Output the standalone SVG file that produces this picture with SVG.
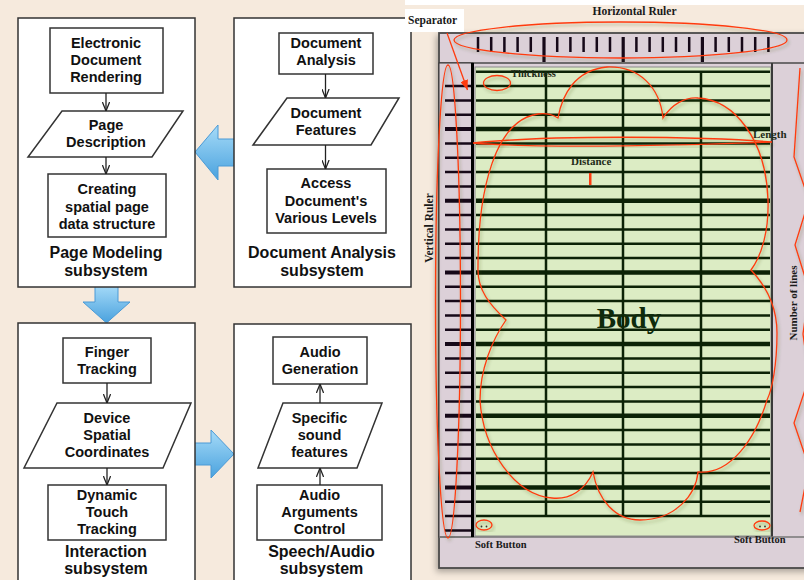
<svg xmlns="http://www.w3.org/2000/svg" width="804" height="580" viewBox="0 0 804 580">
<defs>
<linearGradient id="bg1" x1="0" y1="0" x2="0" y2="1">
<stop offset="0" stop-color="#a6dbf8"/>
<stop offset="1" stop-color="#4aa2de"/>
</linearGradient>
<marker id="v" viewBox="0 0 10 8" refX="10" refY="4" markerWidth="9" markerHeight="8" markerUnits="userSpaceOnUse" orient="auto">
<path d="M0,0 L10,4 L0,8" fill="none" stroke="#222" stroke-width="1.4"/>
</marker>
<marker id="ra" viewBox="0 0 10 8" refX="10" refY="4" markerWidth="10" markerHeight="8" markerUnits="userSpaceOnUse" orient="auto">
<path d="M0,0 L10,4 L0,8 Z" fill="#ff3b0f"/>
</marker>
<filter id="sh" x="-10%" y="-10%" width="130%" height="130%">
<feDropShadow dx="1.5" dy="2.5" stdDeviation="1.6" flood-color="#3a4a20" flood-opacity="0.35"/>
</filter>
<filter id="fs" x="-5%" y="-5%" width="115%" height="115%">
<feDropShadow dx="-2" dy="3" stdDeviation="3" flood-color="#000" flood-opacity="0.3"/>
</filter>
<style>
.bg{fill:#f6eadd}
.panel{fill:#fff;stroke:#333;stroke-width:1.5}
.box{fill:#fff;stroke:#333;stroke-width:1.5}
.t{font-family:"Liberation Sans",Arial,sans-serif;font-weight:bold;font-size:14.5px;fill:#111;text-anchor:middle}
.lab{font-size:16px}
.con{stroke:#222;stroke-width:1.3;fill:none;marker-end:url(#v)}
.blue{fill:url(#bg1);stroke:#4a9ad6;stroke-width:1}
.band{fill:#dcd0d8}
.tick{stroke:#160818;stroke-width:2.5;fill:none}
.tickL{stroke:#160818;stroke-width:4;fill:none}
.bl{stroke:#0c2206;stroke-width:2.5;fill:none}
.blT{stroke:#0c2206;stroke-width:4.5;fill:none}
.red{fill:none;stroke:#ff3b0f;stroke-width:1.3;filter:url(#sh)}
.s{font-family:"Liberation Serif","Times New Roman",serif;font-weight:bold;fill:#1a1a1a}
.sg{fill:#1e2b18}
</style>
</defs>

<rect class="bg" x="0" y="0" width="804" height="580"/>
<rect x="405" y="0" width="399" height="5" fill="#fff"/>

<!-- blue transfer arrows -->
<g id="transfer-arrows">
<polygon class="blue" points="195,152 218,125 218,139 236,139 236,166 218,166 218,180"/>
<polygon class="blue" points="95,285 118,285 118,302 130,302 106.5,323 83,302 95,302"/>
<polygon class="blue" points="193,443 211,443 211,430 234,454 211,478 211,465 193,465"/>
</g>

<!-- Page Modeling subsystem -->
<g id="page-modeling">
<rect class="panel" x="18" y="18" width="177" height="269"/>
<g id="n-electronic-rendering">
<rect class="box" x="50" y="28" width="113" height="65"/>
<text class="t" x="106" y="48">Electronic</text>
<text class="t" x="106" y="65">Document</text>
<text class="t" x="106" y="82">Rendering</text>
</g>
<g id="n-page-description">
<polygon class="box" points="62,111 183,111 152,157 28,157"/>
<text class="t" x="106" y="130">Page</text>
<text class="t" x="106" y="147">Description</text>
</g>
<g id="n-creating-structure">
<rect class="box" x="48" y="174" width="118" height="63"/>
<text class="t" x="107" y="194">Creating</text>
<text class="t" x="107" y="211.5">spatial page</text>
<text class="t" x="107" y="228.5">data structure</text>
</g>
<text class="t lab" x="106" y="258">Page Modeling</text>
<text class="t lab" x="106" y="276">subsystem</text>
</g>

<!-- Document Analysis subsystem -->
<g id="document-analysis">
<rect class="panel" x="234" y="18" width="177" height="269"/>
<g id="n-document-analysis">
<rect class="box" x="279" y="33" width="94" height="41"/>
<text class="t" x="326" y="48">Document</text>
<text class="t" x="326" y="65">Analysis</text>
</g>
<g id="n-document-features">
<polygon class="box" points="287,98 399,98 371,145 253,145"/>
<text class="t" x="326" y="118">Document</text>
<text class="t" x="326" y="135">Features</text>
</g>
<g id="n-access-levels">
<rect class="box" x="267" y="169" width="119" height="64"/>
<text class="t" x="326" y="188">Access</text>
<text class="t" x="326" y="205.5">Document's</text>
<text class="t" x="326" y="222.5">Various Levels</text>
</g>
<text class="t lab" x="322" y="258">Document Analysis</text>
<text class="t lab" x="322" y="276">subsystem</text>
</g>

<!-- Interaction subsystem -->
<g id="interaction">
<rect class="panel" x="18" y="323" width="177" height="270"/>
<g id="n-finger-tracking">
<rect class="box" x="63" y="338" width="88" height="45"/>
<text class="t" x="107" y="357">Finger</text>
<text class="t" x="107" y="374">Tracking</text>
</g>
<g id="n-device-coordinates">
<polygon class="box" points="57,403 191,403 163,468 24,468"/>
<text class="t" x="107" y="422.5">Device</text>
<text class="t" x="107" y="440">Spatial</text>
<text class="t" x="107" y="457">Coordinates</text>
</g>
<g id="n-dynamic-touch">
<rect class="box" x="48" y="485" width="118" height="55"/>
<text class="t" x="107" y="499.5">Dynamic</text>
<text class="t" x="107" y="517">Touch</text>
<text class="t" x="107" y="534">Tracking</text>
</g>
<text class="t lab" x="106" y="557">Interaction</text>
<text class="t lab" x="106" y="574">subsystem</text>
</g>

<!-- Speech/Audio subsystem -->
<g id="speech-audio">
<rect class="panel" x="234" y="324" width="177" height="270"/>
<g id="n-audio-generation">
<rect class="box" x="273" y="337" width="94" height="47"/>
<text class="t" x="320" y="357">Audio</text>
<text class="t" x="320" y="374">Generation</text>
</g>
<g id="n-sound-features">
<polygon class="box" points="283,403 382,403 357,468 258,468"/>
<text class="t" x="319.5" y="422.5">Specific</text>
<text class="t" x="319.5" y="440">sound</text>
<text class="t" x="319.5" y="457">features</text>
</g>
<g id="n-audio-arguments">
<rect class="box" x="257" y="485" width="125" height="55"/>
<text class="t" x="319.5" y="499.5">Audio</text>
<text class="t" x="319.5" y="517">Arguments</text>
<text class="t" x="319.5" y="534">Control</text>
</g>
<text class="t lab" x="321.5" y="557">Speech/Audio</text>
<text class="t lab" x="321.5" y="574">subsystem</text>
</g>

<!-- flowchart connectors -->
<g id="connectors">
<line class="con" x1="106" y1="93" x2="106" y2="111"/>
<line class="con" x1="106" y1="157" x2="106" y2="174"/>
<line class="con" x1="325.5" y1="74" x2="325.5" y2="98"/>
<line class="con" x1="325.5" y1="145" x2="325.5" y2="169"/>
<line class="con" x1="107" y1="383" x2="107" y2="403"/>
<line class="con" x1="107" y1="468" x2="107" y2="485"/>
<line class="con" x1="320" y1="403" x2="320" y2="384"/>
<line class="con" x1="320" y1="485" x2="320" y2="468"/>
</g>

<!-- Right device layout -->
<g id="device">
<rect x="439" y="33" width="375" height="535" fill="#dcd0d8" stroke="#4a4a4a" stroke-width="1.8" filter="url(#fs)"/>
<line x1="439" y1="63" x2="804" y2="63" stroke="#4a4a4a" stroke-width="1.5"/>
<rect x="439" y="63" width="34" height="474" class="band" stroke="#333" stroke-width="1"/>
<rect x="475" y="67" width="296" height="469" fill="#dcecc4" stroke="#8a8a8a" stroke-width="1"/>
<line x1="772" y1="63" x2="772" y2="537" stroke="#3a3a3a" stroke-width="2"/>
<line x1="439" y1="537" x2="804" y2="537" stroke="#777" stroke-width="1.5"/>

<!-- horizontal ruler ticks -->
<path class="tick" d="M478,37V52M491.2,37V52M504.4,37V52M517.6,37V52M530.8,37V52M557.2,37V52M570.4,37V52M583.6,37V52M596.8,37V52M610,37V52M636.4,37V52M649.6,37V52M662.8,37V52M676,37V52M689.2,37V52M715.6,37V52M728.8,37V52M742,37V52M755.2,37V52M768.4,37V52"/>
<path class="tick" style="stroke-width:3.2" d="M544,37V62M623.2,37V62M702.4,37V62"/>

<!-- vertical ruler ticks -->
<path class="tick" d="M445,86H471M445,100.4H471M445,114.7H471M445,143.4H471M445,157.7H471M445,172H471M445,186.4H471M445,215H471M445,229.4H471M445,243.7H471M445,258H471M445,286.7H471M445,301H471M445,315.4H471M445,329.7H471M445,358.4H471M445,372.7H471M445,387H471M445,401.4H471M445,430H471M445,444.4H471M445,458.7H471M445,473H471M445,501.7H471M445,516H471M445,530.4H471"/>
<path class="tickL" d="M445,129H471M445,200.7H471M445,272.4H471M445,344H471M445,415.7H471M445,487.4H471"/>

<!-- body lines -->
<path class="bl" d="M476,71.7H770M476,86H770M476,100.4H770M476,114.7H770M476,143.4H770M476,157.7H770M476,172H770M476,186.4H770M476,215H770M476,229.4H770M476,243.7H770M476,258H770M476,286.7H770M476,301H770M476,315.4H770M476,329.7H770M476,358.4H770M476,372.7H770M476,387H770M476,401.4H770M476,430H770M476,444.4H770M476,458.7H770M476,473H770M476,501.7H770M476,516H770"/>
<path class="blT" d="M476,129H770M476,200.7H770M476,272.4H770M476,344H770M476,415.7H770M476,487.4H770"/>
<path class="bl" d="M546,71V517M623,71V517M701,71V517"/>

<!-- separator line -->
<line x1="472.5" y1="63" x2="472.5" y2="537" stroke="#000" stroke-width="3"/>

<text class="s" x="629" y="328" font-size="29" fill="#0f2a0c" text-anchor="middle" style="fill:#0f2a0c">Body</text>
</g>

<!-- annotation labels -->
<g id="annotations">
<rect x="405" y="9" width="59" height="23" fill="#fff"/>
<text class="s" x="408" y="24" font-size="11.5">Separator</text>
<text class="s" x="634.5" y="15" font-size="11.5" text-anchor="middle">Horizontal Ruler</text>
<text class="s" font-size="11.5" text-anchor="middle" transform="translate(433,228) rotate(-90)">Vertical Ruler</text>
<text class="s" font-size="11" text-anchor="middle" transform="translate(797,303) rotate(-90)">Number of lines</text>
<text class="s sg" x="511" y="77" font-size="10.5" style="fill:#1e2b18">Thickness</text>
<text class="s" x="753" y="138" font-size="11" style="fill:#1e2b18">Length</text>
<text class="s" x="571" y="165" font-size="11" style="fill:#1e2b18">Distance</text>
<text class="s" x="475" y="548" font-size="10.5">Soft Button</text>
<text class="s" x="734" y="543" font-size="10.5">Soft Button</text>
<circle cx="481.5" cy="526.5" r="0.9" fill="#333"/>
<circle cx="486.5" cy="526.5" r="0.9" fill="#333"/>
<circle cx="760" cy="526.5" r="0.9" fill="#333"/>
<circle cx="765" cy="526.5" r="0.9" fill="#333"/>
</g>

<!-- red annotation marks -->
<g id="red-marks">
<ellipse class="red" cx="620.5" cy="40" rx="166.5" ry="18"/>
<ellipse class="red" cx="448" cy="301.5" rx="12.5" ry="236.5"/>
<ellipse class="red" cx="497" cy="83" rx="13.5" ry="7.5"/>
<ellipse class="red" cx="484" cy="525" rx="8" ry="5"/>
<ellipse class="red" cx="762" cy="525.5" rx="8" ry="4.5"/>
<path class="red" d="M473,143 C550,135 700,136 772,142 C700,145 550,149 473,143 Z"/>
<rect x="589" y="173" width="2.5" height="12" fill="#ff3b0f"/>
<line x1="447" y1="33" x2="467.5" y2="90" stroke="#ff3b0f" stroke-width="1.3" marker-end="url(#ra)"/>
<path class="red" d="M800,68 L794,157 L809,200 L795,245 L809,290 L803,334 L809,378 L794,423 L809,467 L800,512"/>
<path class="red" d="M558,118 C562,95 575,70 607,67 C640,66 660,88 663,118 C672,104 685,97 698,98 C735,100 766,140 768,200 C769,230 762,255 751,270 C765,285 777,305 777,333 C777,365 772,390 767,400 C755,440 730,475 698,472 C696,495 675,520 640,520 C615,520 598,500 593,472 C585,490 570,500 552,498 C515,495 483,450 480,400 C480,370 492,340 506,320 C490,305 477,290 478,267 C478,190 495,120 538,114 C546,113 553,115 558,118 Z"/>
</g>
</svg>
